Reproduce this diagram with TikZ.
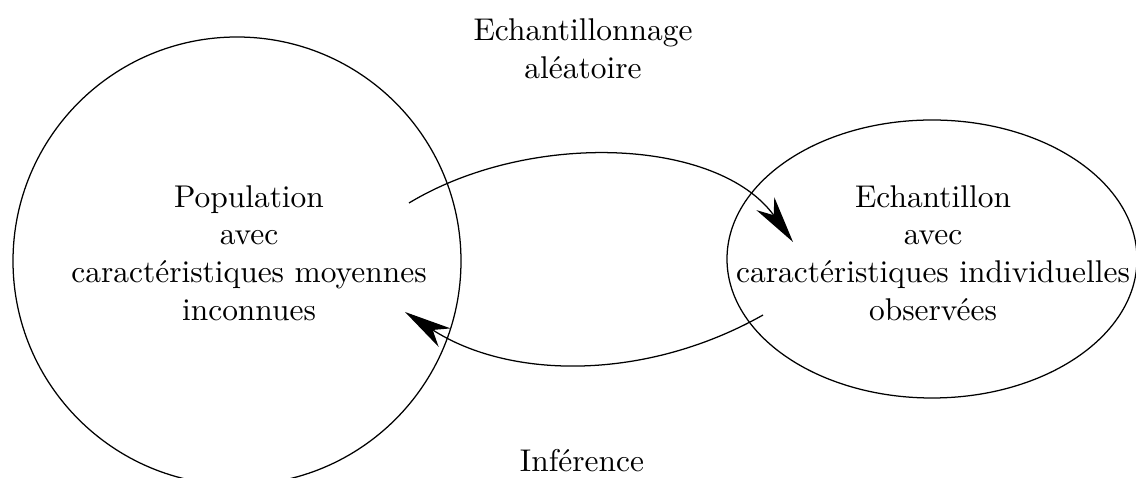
\documentclass[tikz,border=0pt]{standalone}
\usetikzlibrary{arrows.meta,shapes.geometric}
\begin{document}
\begin{tikzpicture}[x=0.318pt,y=-0.318pt,
  lbl/.style={align=center,inner sep=0pt,font=\normalsize},
  shp/.style={draw,line width=0.4pt,inner sep=0pt},
  conn/.style={line width=0.4pt,-{Stealth[length=15pt,width=7pt,inset=4.5pt]}}]
\useasboundingbox (0,0) rectangle (1136,478);
\begin{scope}
\clip (0,0) rectangle (1136,478);
\node[shp,circle,minimum size=448*0.318pt] (popc) at (237,261) {};
\node[shp,ellipse,minimum width=410*0.318pt,minimum height=278*0.318pt] (echc) at (932,259) {};
\end{scope}
\node[lbl] (pop) at (249,253) {Population\\avec\\caractéristiques moyennes\\inconnues};
\node[lbl] (ech) at (933,253) {Echantillon\\avec\\caractéristiques individuelles\\observées};
\node[lbl] (samp) at (583,49) {Echantillonnage\\aléatoire};
\node[lbl] (inf) at (582,461) {Inférence};
\coordinate (a1) at (409,203);
\coordinate (a2) at (793,242);
\coordinate (b1) at (763,315);
\coordinate (b2) at (405,312);
\draw[conn] (a1) .. controls (530,130) and (718,138) .. (a2);
\draw[conn] (b1) .. controls (646,381) and (510,380) .. (b2);
\end{tikzpicture}
\end{document}
